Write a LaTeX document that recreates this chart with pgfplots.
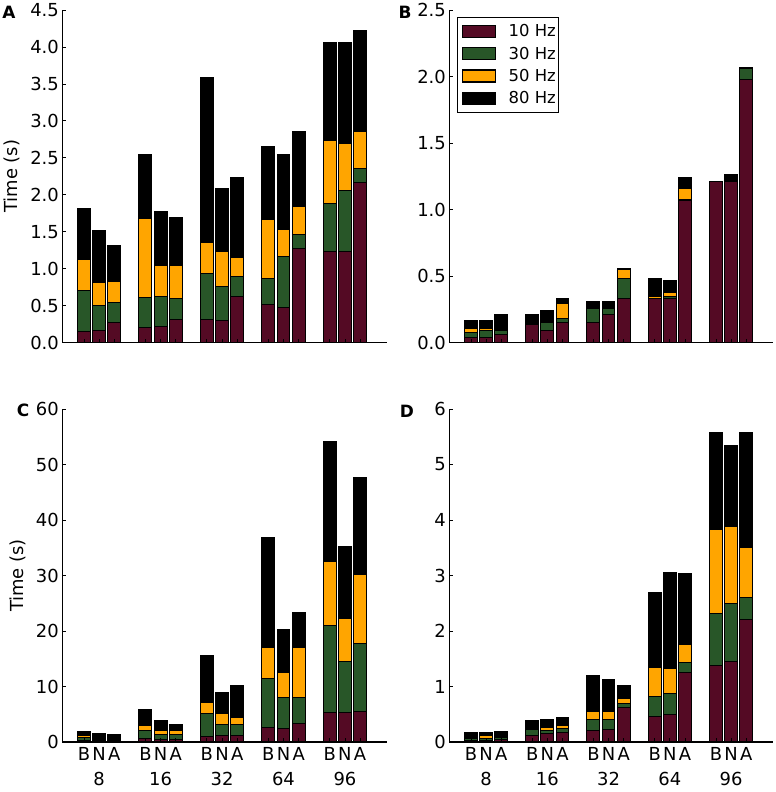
\documentclass[border=0pt]{standalone}
\usepackage{fontspec}
\setmainfont{DejaVu Sans}
\usepackage{pgfplots}
\pgfplotsset{compat=1.18}
\usepackage{pgfplotstable}

\definecolor{c10}{RGB}{84,10,36}
\definecolor{c30}{RGB}{40,86,40}
\definecolor{c50}{RGB}{255,165,0}
\definecolor{c80}{RGB}{0,0,0}

% increments per segment: r = 10 Hz, g = 30 Hz, o = 50 Hz, k = 80 Hz
\pgfplotstableread{
x      r     g     o     k
-0.247 0.15  0.55  0.42  0.69
0      0.17  0.33  0.32  0.70
0.247  0.27  0.28  0.28  0.48
0.753  0.20  0.41  1.07  0.87
1      0.22  0.40  0.42  0.74
1.247  0.31  0.29  0.44  0.66
1.753  0.32  0.62  0.41  2.24
2      0.30  0.46  0.48  0.85
2.247  0.63  0.27  0.25  1.09
2.753  0.52  0.35  0.79  0.99
3      0.47  0.69  0.37  1.02
3.247  1.27  0.20  0.37  1.01
3.753  1.23  0.65  0.86  1.32
4      1.24  0.82  0.64  1.36
4.247  2.16  0.20  0.50  1.36
}\dataA

\pgfplotstableread{
x      r      g      o      k
-0.247 0.04   0.04   0.03   0.06
0      0.04   0.05   0.015  0.065
0.247  0.06   0.03   0.002  0.12
0.753  0.14   0.003  0.01   0.06
1      0.09   0.065  0.005  0.08
1.247  0.15   0.035  0.11   0.035
1.753  0.15   0.105  0.003  0.052
2      0.21   0.045  0.003  0.052
2.247  0.33   0.15   0.07   0.005
2.753  0.33   0.005  0.01   0.14
3      0.33   0.02   0.03   0.09
3.247  1.07   0.005  0.08   0.085
3.753  1.21   0.001  0.001  0.002
4      1.215  0.002  0.002  0.046
4.247  1.98   0.08   0.002  0.003
}\dataB

\pgfplotstableread{
x      r     g      o     k
-0.247 0.3   0.6    0.2   0.76
0      0.2   0.3    0.1   1.02
0.247  0.2   0.25   0.1   0.89
0.753  0.6   1.5    0.85  2.82
1      0.4   1.04   0.66  1.8
1.247  0.4   0.9    0.7   1.24
1.753  0.96  4.24   2.0   8.4
2      1.2   2.0    1.9   3.8
2.247  1.2   1.9    1.3   5.8
2.753  2.6   8.8    5.6   19.9
3      2.5   5.5    4.5   7.7
3.247  3.3   4.7    9.1   6.2
3.753  5.35  15.65  11.5  21.7
4      5.3   9.2    7.8   13.0
4.247  5.5   12.2   12.5  17.4
}\dataC

\pgfplotstableread{
x      r      g      o      k
-0.247 0.03   0.03   0.01   0.10
0      0.03   0.04   0.045  0.065
0.247  0.04   0.04   0.01   0.10
0.753  0.126  0.094  0.02   0.14
1      0.15   0.06   0.05   0.15
1.247  0.17   0.08   0.04   0.16
1.753  0.216  0.184  0.147  0.643
2      0.22   0.19   0.14   0.57
2.247  0.62   0.08   0.075  0.235
2.753  0.456  0.364  0.525  1.355
3      0.50   0.37   0.46   1.73
3.247  1.26   0.17   0.32   1.29
3.753  1.38   0.94   1.51   1.75
4      1.45   1.04   1.40   1.46
4.247  2.21   0.40   0.90   2.06
}\dataD

\pgfplotsset{
  panel/.style={
    scale only axis,
    width=325bp, height=333bp,
    axis lines*=left,
    axis on top,
    xmin=-0.6, xmax=4.69, ymin=0,
    ybar stacked, bar width=0.21, bar shift=0pt,
    xtick={-0.247,0,0.247,0.753,1,1.247,1.753,2,2.247,2.753,3,3.247,3.753,4,4.247},
    tick align=inside,
    major tick length=3.5bp,
    every tick/.style={black, line width=0.8bp},
    axis line style={line width=1.2bp, black},
    tick label style={font=\fontsize{18}{21}\selectfont},
    /pgf/number format/assume math mode=true,
    every axis plot/.append style={draw=black, line width=1bp},
  },
  nolabels/.style={xticklabels={}},
  withlabels/.style={
    xticklabels={B,N,A,B,N,A,B,N,A,B,N,A,B,N,A},
    xticklabel style={yshift=-2bp},
    extra x ticks={0,1,2,3,4},
    extra x tick labels={8,16,32,64,96},
    extra x tick style={major tick length=0pt, xticklabel style={yshift=-25bp}},
  },
  onedec/.style={yticklabel style={/pgf/number format/.cd, fixed, fixed zerofill, precision=1}},
}

\newcommand{\bars}[1]{%
  \addplot[fill=c10] table[x=x,y=r] {#1};
  \addplot[fill=c30] table[x=x,y=g] {#1};
  \addplot[fill=c50] table[x=x,y=o] {#1};
  \addplot[fill=c80] table[x=x,y=k] {#1};
}

\begin{document}
\begin{tikzpicture}
\useasboundingbox (0,0) rectangle (776bp,792bp);

% Panel A
\begin{axis}[panel, nolabels, onedec,
  at={(62.3bp,449.3bp)}, anchor=south west,
  width=325bp, height=332.7bp,
  ymax=4.5, ytick={0,0.5,...,4.5},
  ylabel={Time (s)},
  ylabel style={font=\fontsize{18}{21}\selectfont, at={(axis description cs:-0.154,0.5)}, anchor=center, rotate=0}]
\bars{\dataA}
\end{axis}

% Panel B
\begin{axis}[panel, nolabels, onedec,
  at={(449.3bp,449.3bp)}, anchor=south west,
  width=324bp, height=332.7bp,
  ymax=2.5, ytick={0,0.5,...,2.5},
  legend image code/.code={%
    \path[fill=none, draw=none] (0bp,-11.2bp) rectangle (48bp,11.2bp);
    \draw[#1, draw=black, line width=1.2bp] (3bp,-6bp) rectangle (36bp,6bp);},
  legend style={at={(0.024,0.979)}, anchor=north west, draw=black, line width=1.2bp,
    font=\fontsize{16.5}{19}\selectfont, row sep=0pt, inner xsep=2bp, inner ysep=2.5bp,
    nodes={inner sep=1bp}, cells={anchor=west}},
  legend entries={10 Hz,30 Hz,50 Hz,80 Hz}]
\bars{\dataB}
\end{axis}

% Panel C
\begin{axis}[panel, withlabels,
  at={(62.3bp,50bp)}, anchor=south west,
  width=325bp, height=333bp,
  ymax=60, ytick={0,10,...,60},
  ylabel={Time (s)},
  ylabel style={font=\fontsize{18}{21}\selectfont, at={(axis description cs:-0.136,0.5)}, anchor=center, rotate=0}]
\bars{\dataC}
\end{axis}

% Panel D
\begin{axis}[panel, withlabels,
  at={(449.3bp,50bp)}, anchor=south west,
  width=324bp, height=333bp,
  ymax=6, ytick={0,1,...,6}]
\bars{\dataD}
\end{axis}

\node[font=\fontsize{17}{19}\bfseries\selectfont] at (9bp,780bp) {A};
\node[font=\fontsize{17}{19}\bfseries\selectfont] at (405bp,780bp) {B};
\node[font=\fontsize{17}{19}\bfseries\selectfont] at (23bp,382bp) {C};
\node[font=\fontsize{17}{19}\bfseries\selectfont] at (407bp,381bp) {D};
\end{tikzpicture}
\end{document}
